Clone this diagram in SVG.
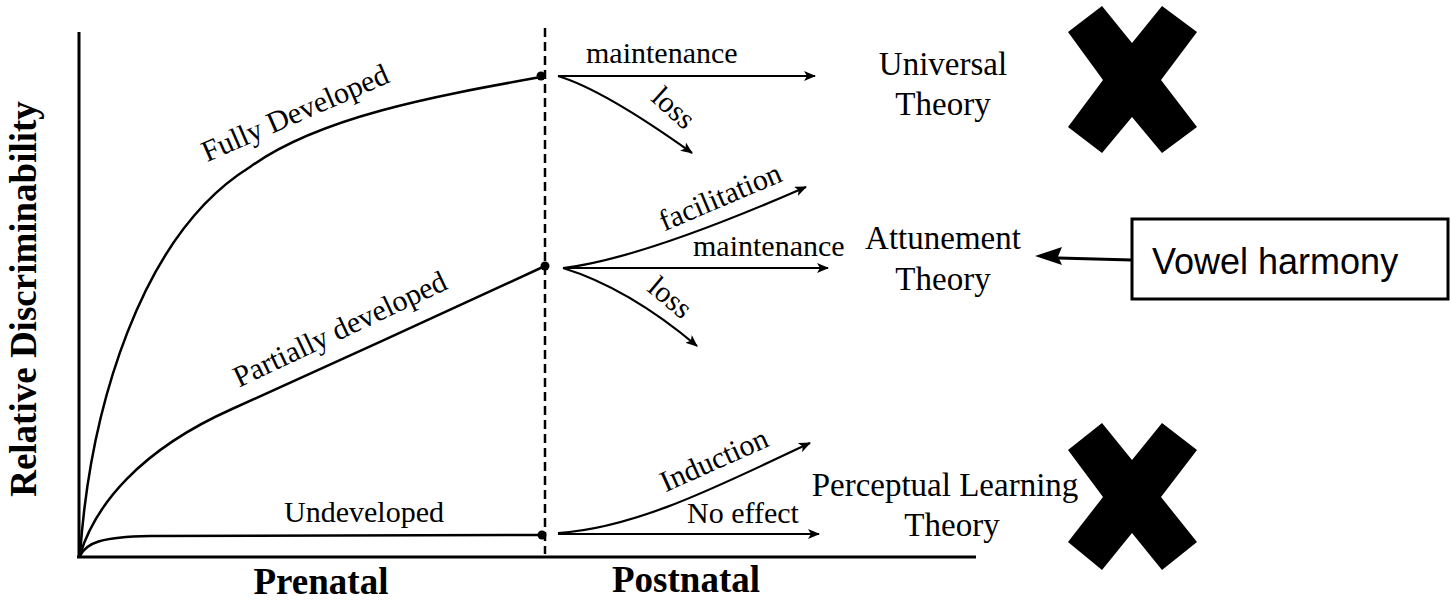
<svg xmlns="http://www.w3.org/2000/svg" width="1451" height="601" viewBox="0 0 1451 601">
  <style>
    .serif { font-family: "Liberation Serif", "Times New Roman", serif; fill: #000; }
    .lbl { font-size: 30px; }
    .theory { font-size: 33px; text-anchor: middle; }
    .axis-title { font-size: 37px; font-weight: bold; text-anchor: middle; }
    .curve { fill: none; stroke: #000; stroke-width: 2.5; }
    .arrow { fill: none; stroke: #000; stroke-width: 2.2; marker-end: url(#head); }
    .axis { stroke: #000; stroke-width: 3; fill: none; }
  </style>
  <defs>
    <marker id="head" viewBox="0 0 12 10" refX="11" refY="5" markerWidth="12" markerHeight="10" markerUnits="userSpaceOnUse" orient="auto">
      <path d="M0,0 L12,5 L0,10 L3,5 z" fill="#000"/>
    </marker>
  </defs>
  <rect width="1451" height="601" fill="#fff"/>

  <!-- axes and the birth divider -->
  <g id="axes">
    <line class="axis" x1="79" y1="32" x2="79" y2="558"/>
    <line class="axis" x1="77" y1="557" x2="976" y2="557"/>
    <line x1="545" y1="28" x2="545" y2="554" stroke="#000" stroke-width="2.5" stroke-dasharray="9 5"/>
    <text class="serif axis-title" transform="translate(36,299) rotate(-90)">Relative Discriminability</text>
    <text class="serif axis-title" x="321" y="594" font-size="36">Prenatal</text>
    <text class="serif axis-title" x="686" y="592" font-size="36">Postnatal</text>
  </g>

  <!-- prenatal developmental curves -->
  <g id="prenatal-curves">
    <path class="curve" d="M80,555 C90,410 140,235 250,167 C320,116 441,95 541,77"/>
    <path class="curve" d="M80,555 C95,505 140,450 232,409 C330,365 450,310 545,266"/>
    <path class="curve" d="M80,556 C86,543 100,537 150,536 L541,535"/>
    <circle cx="541" cy="76" r="4.5"/>
    <circle cx="545" cy="266" r="4.5"/>
    <circle cx="542" cy="535" r="4.5"/>
    <text class="serif lbl" text-anchor="middle" transform="translate(299,122) rotate(-23.6)">Fully Developed</text>
    <text class="serif lbl" text-anchor="middle" transform="translate(344,338) rotate(-25.3)">Partially developed</text>
    <text class="serif lbl" text-anchor="middle" x="364" y="522">Undeveloped</text>
  </g>

  <!-- postnatal outcomes -->
  <g id="connectors">
    <line class="arrow" x1="558" y1="76" x2="815" y2="76"/>
    <path class="arrow" d="M558,76 Q604,90 692,153"/>
    <path class="arrow" d="M563,268 Q641,259 806,187"/>
    <line class="arrow" x1="563" y1="268" x2="828" y2="268"/>
    <path class="arrow" d="M563,268 Q628,288 697,346"/>
    <path class="arrow" d="M558,533 C640,528 730,480 810,443"/>
    <line class="arrow" x1="558" y1="534" x2="819" y2="534"/>
    <line x1="1132" y1="260" x2="1058" y2="258" stroke="#000" stroke-width="3"/>
    <path d="M1035,256 L1062,247 L1058,256.5 L1062,265 z" fill="#000"/>
  </g>

  <g id="outcome-labels">
    <text class="serif lbl" x="586" y="63">maintenance</text>
    <text class="serif lbl" text-anchor="middle" transform="translate(667,115) rotate(42)">loss</text>
    <text class="serif lbl" text-anchor="middle" transform="translate(724,206) rotate(-23)">facilitation</text>
    <text class="serif lbl" x="693" y="256">maintenance</text>
    <text class="serif lbl" text-anchor="middle" transform="translate(664,305) rotate(40)">loss</text>
    <text class="serif lbl" text-anchor="middle" transform="translate(718,469) rotate(-24)">Induction</text>
    <text class="serif lbl" x="687" y="523">No effect</text>
  </g>

  <g id="universal-theory">
    <text class="serif theory" x="943" y="75">Universal</text>
    <text class="serif theory" x="943" y="115">Theory</text>
  </g>
  <g id="attunement-theory">
    <text class="serif theory" x="943" y="249">Attunement</text>
    <text class="serif theory" x="943" y="290">Theory</text>
  </g>
  <g id="perceptual-learning-theory">
    <text class="serif theory" x="945" y="496">Perceptual Learning</text>
    <text class="serif theory" x="952" y="536">Theory</text>
  </g>

  <g id="cross-universal">
    <polygon points="1068,32 1102,6 1132,43 1162,6 1197,32 1161,80 1197,127 1162,153 1132,117 1102,153 1068,127 1103,80" fill="#000"/>
  </g>
  <g id="cross-perceptual">
    <polygon points="1068,450 1102,423 1132,460 1162,423 1197,450 1161,497 1197,542 1162,570 1132,533 1102,570 1068,542 1103,497" fill="#000"/>
  </g>

  <g id="vowel-harmony">
    <rect x="1132" y="219" width="316" height="80" fill="#fff" stroke="#000" stroke-width="3"/>
    <text x="1152" y="274" font-family="Liberation Sans, Arial, sans-serif" font-size="36" fill="#000">Vowel harmony</text>
  </g>
</svg>
